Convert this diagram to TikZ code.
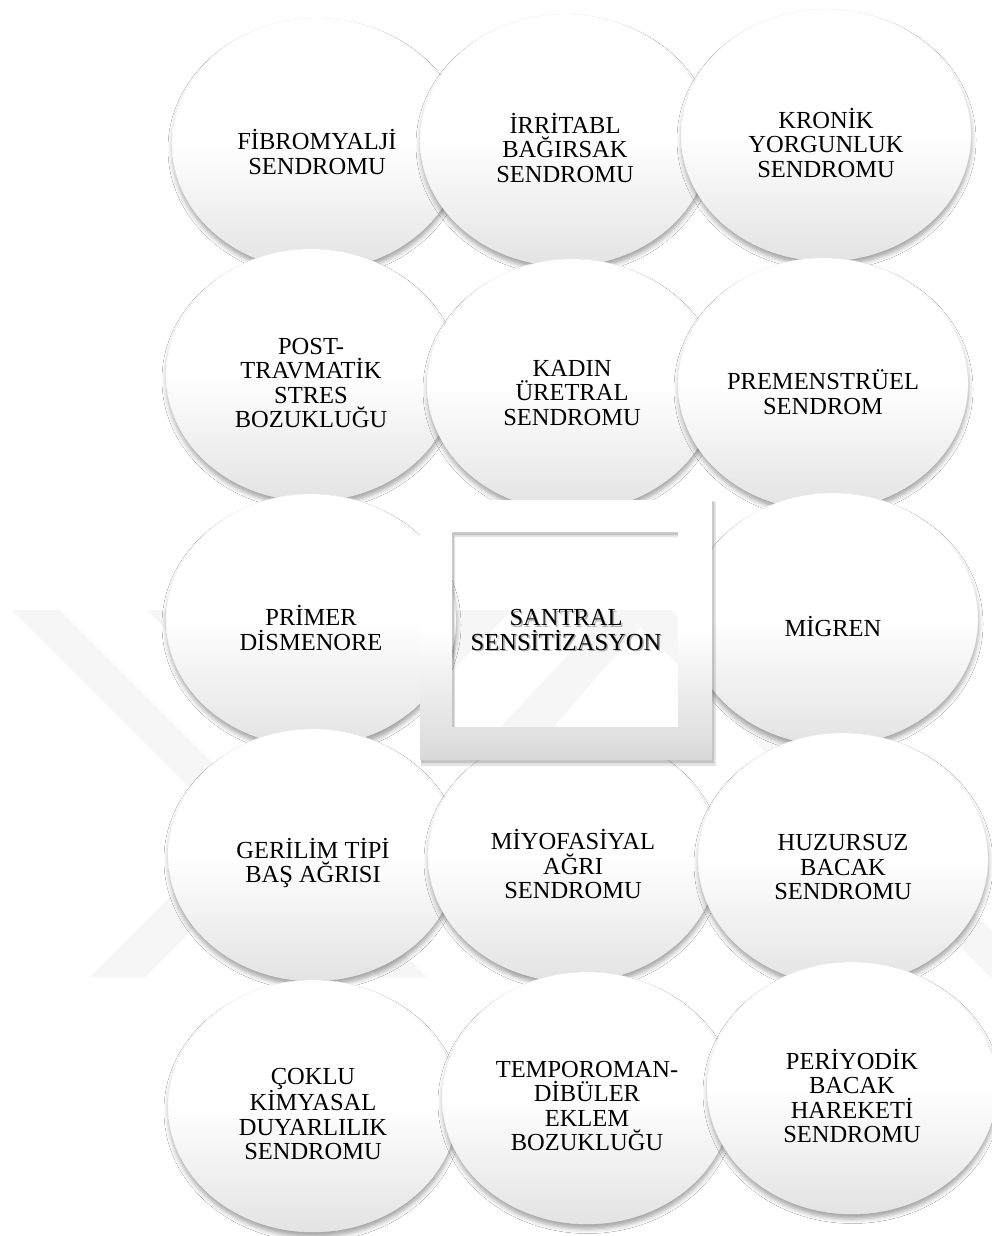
\documentclass[tikz,border=0pt]{standalone}
\usepackage{fontspec}
\setmainfont{Liberation Serif}
\usetikzlibrary{shapes.geometric,shadows.blur}

\begin{document}
\begin{tikzpicture}[
  x=1pt, y=-1pt,
  blob/.style={ellipse, minimum width=290pt, minimum height=252pt, inner sep=0pt,
    draw=gray!12, line width=0.3pt, top color=white, bottom color=black!11,
    middle color=white,
    blur shadow={shadow xshift=0.5pt, shadow yshift=-5pt, shadow blur radius=4.5pt,
      shadow opacity=35}},
  caption/.style={align=center, font=\fontsize{24.5}{24.5}\selectfont},
  lbl/.style={caption, yshift=-8pt},
  wmark/.style={fill=black!3.5}
]
\useasboundingbox (0,0) rectangle (992,1236);
\fill[white] (0,0) rectangle (992,1236);

% faint watermark
\begin{scope}
\clip (0,0) rectangle (992,1236);
\fill[wmark] (12,610) -- (60,610) -- (427,977) -- (379,977) -- cycle;
\fill[wmark] (147,610) -- (195,610) -- (562,977) -- (514,977) -- cycle;
\fill[wmark] (90,977) -- (145,977) -- (512,610) -- (457,610) -- cycle;
\fill[wmark] (623,610) -- (671,610) -- (1038,977) -- (990,977) -- cycle;
\fill[wmark] (470,760) -- (525,760) -- (655,610) -- (610,610) -- cycle;
\end{scope}

% row 1
\node[blob, label={[lbl]center:{FİBROMYALJİ\\SENDROMU}}] (fibro) at (317,144) {};
\node[blob, label={[lbl]center:{İRRİTABL\\BAĞIRSAK\\SENDROMU}}] (ibs) at (565,140) {};
\node[blob, label={[lbl]center:{KRONİK\\YORGUNLUK\\SENDROMU}}] (kys) at (826,135) {};
% row 2
\node[blob, label={[lbl]center:{POST-\\TRAVMATİK\\STRES\\BOZUKLUĞU}}] (ptsd) at (311,375) {};
\node[blob, label={[lbl]center:{KADIN\\ÜRETRAL\\SENDROMU}}] (kus) at (572,385) {};
\node[blob, label={[lbl]center:{PREMENSTRÜEL\\SENDROM}}] (pms) at (823,384) {};
% row 3
\node[blob, label={[lbl]center:{PRİMER\\DİSMENORE}}] (pd) at (311,620) {};
\node[blob, label={[lbl]center:{MİGREN}}] (mig) at (833,619) {};
% row 4
\node[blob, label={[lbl]center:{GERİLİM TİPİ\\BAŞ AĞRISI}}] (gtba) at (313,855) {};
\node[blob, label={[lbl]center:{MİYOFASİYAL\\AĞRI\\SENDROMU}}] (mas) at (573,856) {};
\node[blob, label={[lbl]center:{HUZURSUZ\\BACAK\\SENDROMU}}] (hbs) at (843,859) {};
% row 5
\node[blob, label={[lbl]center:{ÇOKLU\\KİMYASAL\\DUYARLILIK\\SENDROMU}}] (cks) at (313,1106) {};
\node[blob, label={[lbl]center:{TEMPOROMAN-\\DİBÜLER\\EKLEM\\BOZUKLUĞU}}] (teb) at (587,1098) {};
\node[blob, label={[lbl]center:{PERİYODİK\\BACAK\\HAREKETİ\\SENDROMU}}] (pbhs) at (852,1088) {};

% centre frame
\fill[black, opacity=0.10, even odd rule] (421,502) rectangle (716,766) (455,537) rectangle (681,731);
\fill[black, opacity=0.14, even odd rule] (421,501) rectangle (714,763) (454,535) rectangle (680,729);
\path[top color=white, bottom color=black!15, middle color=white, even odd rule]
  (420,500) rectangle (712,760) (452,532) rectangle (678,727);
\node[caption, text=black!60, opacity=0.5] (santralglow) at (567.5,631.5) {SANTRAL\\SENSİTİZASYON};
\node[caption] (santral) at (566,630) {SANTRAL\\SENSİTİZASYON};
\end{tikzpicture}
\end{document}
